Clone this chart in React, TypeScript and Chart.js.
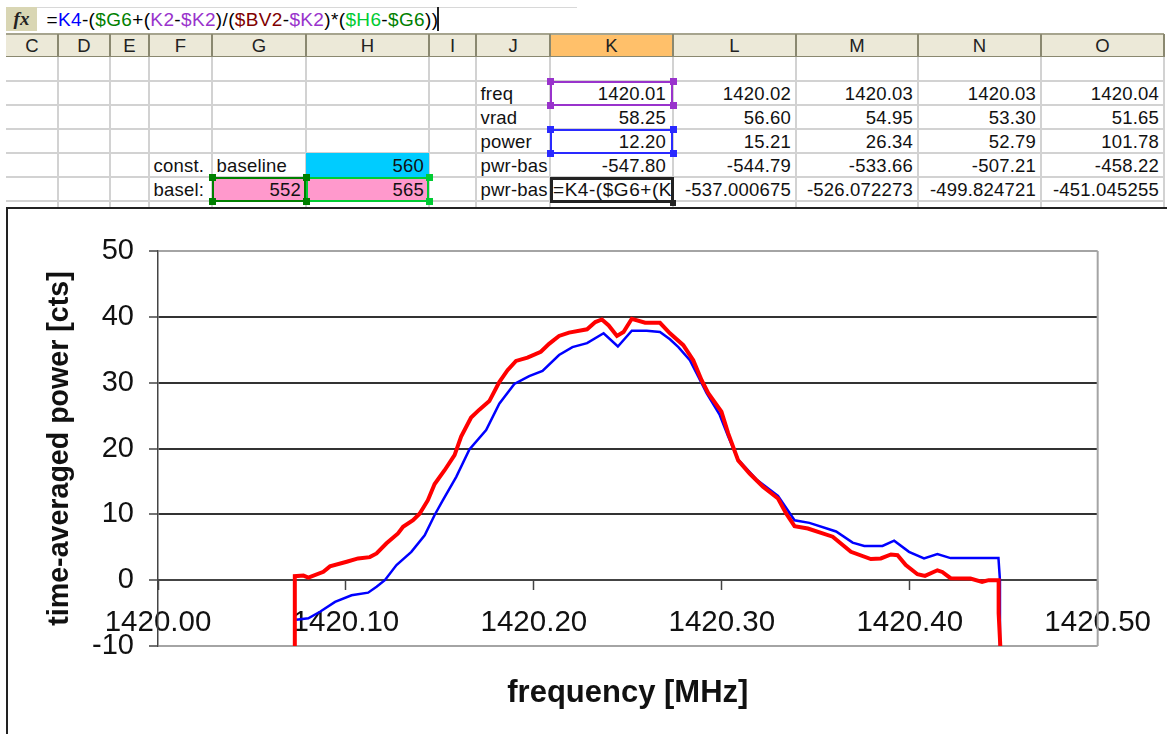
import React, { useEffect, useRef } from "react";
import { Chart, registerables } from "chart.js";

Chart.register(...registerables);

const redFreq = [1420.0728,1420.0728,1420.0774,1420.08,1420.088,1420.0915,1420.1004,1420.1065,1420.1127,1420.1163,1420.1216,1420.1277,1420.1304,1420.1357,1420.1392,1420.1436,1420.1472,1420.1525,1420.1578,1420.1613,1420.1666,1420.171,1420.1763,1420.1816,1420.186,1420.1905,1420.1966,1420.2037,1420.2081,1420.2134,1420.2187,1420.2283,1420.2327,1420.2362,1420.2398,1420.2442,1420.2477,1420.2521,1420.2592,1420.2671,1420.2724,1420.2795,1420.2848,1420.2892,1420.2928,1420.2998,1420.3034,1420.3087,1420.3148,1420.3219,1420.3299,1420.3343,1420.3387,1420.3458,1420.359,1420.3687,1420.3793,1420.3846,1420.39,1420.3935,1420.3979,1420.4041,1420.4081,1420.4147,1420.4173,1420.4217,1420.4323,1420.4385,1420.442,1420.4473,1420.4473,1420.4482];
const redPower = [-10.1,0.6,0.7,0.4,1.27,2.1,2.8,3.3,3.5,4.05,5.6,7.1,8.1,9.1,10.1,12.15,14.6,16.7,19,21.8,24.7,25.9,27.2,30.1,31.9,33.3,33.8,34.7,35.9,37.1,37.6,38.1,39.2,39.6,38.7,37.1,37.7,39.7,39.1,39.1,37.5,35.7,33.4,30.4,28.4,25.6,22.3,18.2,16.2,14.2,12.4,10.1,8.2,7.85,6.6,4.3,3.2,3.3,3.9,3.8,2.3,0.9,0.65,1.5,1.25,0.3,0.25,-0.25,0,0,-5,-10.1];
const blueFreq = [1420.0735,1420.08,1420.0862,1420.0942,1420.103,1420.1118,1420.1163,1420.1207,1420.1269,1420.1348,1420.1419,1420.1472,1420.1516,1420.1587,1420.1657,1420.1746,1420.1816,1420.1896,1420.1975,1420.2046,1420.2134,1420.2205,1420.2283,1420.2371,1420.2447,1420.2521,1420.26,1420.2671,1420.2724,1420.2769,1420.283,1420.2875,1420.2919,1420.2989,1420.3034,1420.3087,1420.3184,1420.3299,1420.3387,1420.3466,1420.3608,1420.3696,1420.3758,1420.3855,1420.3917,1420.3996,1420.4076,1420.4147,1420.4217,1420.4472,1420.448,1420.448];
const bluePower = [-6,-5.8,-4.8,-3.3,-2.3,-1.9,-1,0,2.3,4.3,6.8,9.9,12.15,15.7,19.85,22.8,26.8,29.8,31,31.8,34.2,35.4,36,37.5,35.5,37.9,37.9,37.7,36.6,35.4,33.4,30.9,28.4,25.1,21.8,18.3,15.3,12.8,9.1,8.7,7.4,5.7,5.2,5.2,6,4.3,3.3,3.95,3.35,3.35,0,-10.1];

const columnNames = ["C","D","E","F","G","H","I","J","K","L","M","N","O"];
const columnEdges = [6,58,110,149,212,306,429,476,550,673,796,918,1041,1164];
const rowEdges = [81,105,129,153,177,201];

const labelsF = [["const.",3],["basel:",4]] as [string, number][];
const labelsG = [["baseline",3]] as [string, number][];
const labelsJ = ["freq","vrad","power","pwr-bas","pwr-bas"];
const colK = ["1420.01","58.25","12.20","-547.80"];
const colL = ["1420.02","56.60","15.21","-544.79","-537.000675"];
const colM = ["1420.03","54.95","26.34","-533.66","-526.072273"];
const colN = ["1420.03","53.30","52.79","-507.21","-499.824721"];
const colO = ["1420.04","51.65","101.78","-458.22","-451.045255"];
const numericColumns: [number, string[]][] = [[8,colK],[9,colL],[10,colM],[11,colN],[12,colO]];

const formulaParts: [string, string][] = [
  ["=","#000"],["K4","#0000ff"],["-(","#000"],["$G6","#008000"],["+(","#000"],["K2","#9933cc"],["-","#000"],["$K2","#9933cc"],[")/(","#000"],["$BV2","#800000"],["-","#000"],["$K2","#9933cc"],[")*(","#000"],["$H6","#00cc33"],["-","#000"],["$G6","#008000"],["))","#000"],
];

const FONT = '"Liberation Sans", Arial, sans-serif';

function box(left: number, top: number, width: number, height: number, background: string, extra: React.CSSProperties = {}): React.CSSProperties {
  return { position: "absolute", left, top, width, height, background, boxSizing: "border-box", ...extra };
}

function Cell({ col, row, text, right, pad = 5, color = "#111" }: { col: number; row: number; text: string; right?: boolean; pad?: number; color?: string }) {
  const l = columnEdges[col], r = columnEdges[col + 1], t = rowEdges[row], b = rowEdges[row + 1];
  return (
    <div style={{ position: "absolute", left: l, top: t, width: r - l, height: b - t, lineHeight: `${b - t + 1}px`, fontSize: 18.5, color, whiteSpace: "nowrap", textAlign: right ? "right" : "left", paddingRight: right ? pad : 0, paddingLeft: right ? 0 : 4.5, boxSizing: "border-box", letterSpacing: "0.2px" }}>
      {text}
    </div>
  );
}

function Selection({ l, r, t, b, color, handles }: { l: number; r: number; t: number; b: number; color: string; handles: [number, number][] }) {
  return (
    <>
      <div style={box(l, t, r - l, b - t + 1, "transparent", { border: `2px solid ${color}` })} />
      {handles.map(([x, y], i) => <div key={i} style={box(x - 3.5, y - 3.5, 7, 7, color)} />)}
    </>
  );
}

function Sheet() {
  const k0 = columnEdges[8], k1 = columnEdges[9], g0 = columnEdges[4], g1 = columnEdges[5], h1 = columnEdges[6];
  return (
    <div style={{ position: "absolute", left: 0, top: 0, width: 1167, height: 207, fontFamily: FONT, overflow: "hidden" }}>
      <div style={box(6, 7, 31, 24, "#d9d6b4")} />
      <div style={{ position: "absolute", left: 6, top: 7, width: 31, height: 24, lineHeight: "24px", textAlign: "center", fontFamily: '"Liberation Serif", serif', fontStyle: "italic", fontWeight: 700, fontSize: 19, color: "#222" }}>fx</div>
      <div style={box(37, 7, 540, 1, "#d8d8d8")} />
      <div style={{ position: "absolute", left: 46.5, top: 7, height: 24, lineHeight: "25px", fontSize: 19, whiteSpace: "nowrap", letterSpacing: "0.35px" }}>
        {formulaParts.map(([t, c], i) => <span key={i} style={{ color: c }}>{t}</span>)}
      </div>
      <div style={box(437, 7, 2, 24, "#222")} />

      <div style={box(6, 33, 1158, 24, "#ece9d8", { borderTop: "2px solid #a6a48e", borderBottom: "1.5px solid #8a8870" })} />
      <div style={box(k0, 33, k1 - k0, 24, "#ffc06a", { borderTop: "2px solid #a6a48e", borderBottom: "1.5px solid #8a8870" })} />
      {columnNames.map((n, i) => (
        <div key={n} style={{ position: "absolute", left: columnEdges[i], top: 34, width: columnEdges[i + 1] - columnEdges[i], height: 23, lineHeight: "23px", textAlign: "center", fontSize: 18.5, color: "#222" }}>{n}</div>
      ))}
      {columnEdges.slice(1).map((x) => <div key={x} style={box(x - 1, 34, 2, 23, "#8a8870")} />)}

      {rowEdges.map((y) => <div key={y} style={box(6, y - 1, 1158, 2, "#d2d2d2")} />)}
      {columnEdges.slice(1).map((x) => <div key={x} style={box(x - 1, 57, 2, 150, "#d2d2d2")} />)}

      <div style={box(columnEdges[5], 153, h1 - columnEdges[5], 24, "#00ccff")} />
      <div style={box(g0, 177, h1 - g0, 24, "#ff99cc")} />

      {labelsF.map(([t, r]) => <Cell key={t} col={3} row={r} text={t} />)}
      {labelsG.map(([t, r]) => <Cell key={t} col={4} row={r} text={t} />)}
      {labelsJ.map((t, r) => <Cell key={r} col={7} row={r} text={t} />)}
      <Cell col={5} row={3} text="560" right />
      <Cell col={4} row={4} text="552" right />
      <Cell col={5} row={4} text="565" right />
      {numericColumns.map(([c, vals]) => vals.map((v, r) => <Cell key={`${c}-${r}`} col={c} row={r} text={v} right pad={c === 8 ? 7 : 5} />))}

      <Selection l={g1} r={h1} t={177} b={201} color="#00cc33" handles={[[g1, 177], [h1, 177], [g1, 201], [h1, 201]]} />
      <Selection l={g0} r={g1} t={177} b={201} color="#008000" handles={[[g0, 177], [g1, 177], [g0, 201], [g1, 201]]} />
      <Selection l={k0} r={k1} t={81} b={105} color="#9933cc" handles={[[k0, 81], [k1, 81], [k0, 105], [k1, 105]]} />
      <Selection l={k0} r={k1} t={129} b={153} color="#2a2aff" handles={[[k0, 129], [k1, 129], [k0, 153], [k1, 153]]} />

      <div style={{ position: "absolute", left: k0, top: 177, width: k1 - k0 + 1, height: 26, overflow: "hidden", background: "#fff", border: "3px solid #222", boxSizing: "border-box", lineHeight: "20px", fontSize: 19, letterSpacing: "0.55px", color: "#111", whiteSpace: "nowrap", paddingLeft: 0 }}>=K4-($G6+(K2-$K2)/($BV2-$K2)*($H6-$G6))</div>
      <div style={box(k1 - 3, 200, 6, 6, "#222")} />
    </div>
  );
}

export default function App() {
  const ref = useRef<HTMLCanvasElement>(null);
  useEffect(() => {
    if (!ref.current) return;
    const edgePlugin = {
      id: "plotEdge",
      beforeDatasetsDraw(chart: any) {
        const { ctx, chartArea: a } = chart;
        ctx.save();
        ctx.strokeStyle = "#a4a4a4";
        ctx.lineWidth = 2;
        ctx.beginPath();
        ctx.moveTo(a.right, a.top);
        ctx.lineTo(a.right, a.bottom);
        ctx.stroke();
        ctx.restore();
      },
    };
    const chart = new Chart(ref.current, {
      type: "line",
      plugins: [edgePlugin],
      data: {
        datasets: [
          { label: "basel", data: redFreq.map((x, i) => ({ x, y: redPower[i] })), borderColor: "#ff0000", borderWidth: 4, pointRadius: 0, tension: 0 },
          { label: "const", data: blueFreq.map((x, i) => ({ x, y: bluePower[i] })), borderColor: "#0000ff", borderWidth: 2.5, pointRadius: 0, tension: 0 },
        ],
      },
      options: {
        animation: false,
        responsive: false,
        layout: { padding: { left: 0, right: 69, top: 42, bottom: 0 } },
        plugins: {
          legend: { display: false },
          tooltip: { enabled: false },
          title: {
            display: true,
            position: "bottom",
            fullSize: false,
            text: "frequency [MHz]",
            color: "#111",
            font: { family: FONT, size: 31, weight: "bold", lineHeight: 1.2 },
            padding: { top: 28.4, bottom: 22.4 },
          },
        },
        scales: {
          x: {
            type: "linear",
            position: { y: 0 },
            min: 1420,
            max: 1420.5,
            border: { color: "#444", width: 2 },
            grid: { drawOnChartArea: false, drawTicks: true, tickLength: 9, tickColor: "#444", tickWidth: 1.5 },
            ticks: {
              stepSize: 0.1,
              autoSkip: false,
              maxRotation: 0,
              padding: 16,
              color: "#111",
              font: { family: FONT, size: 29.5 },
              callback: (v: any) => Number(v).toFixed(2),
            },
          },
          y: {
            type: "linear",
            min: -10,
            max: 50,
            afterFit: (s: any) => { s.width = 150; },
            border: { color: "#444", width: 1.5 },
            grid: {
              color: (c: any) => (c.tick && (c.tick.value === 50 || c.tick.value === -10) ? "#a4a4a4" : "#333"),
              lineWidth: 2,
              tickLength: 9,
              tickColor: "#444",
              tickWidth: 1.5,
            },
            ticks: { stepSize: 10, padding: 15, color: "#111", font: { family: FONT, size: 29 } },
            title: {
              display: true,
              text: "time-averaged power [cts]",
              color: "#111",
              font: { family: FONT, size: 28.6, weight: "bold", lineHeight: 1.2 },
              padding: { top: 35, bottom: 0 },
            },
          },
        },
      },
    } as any);
    return () => chart.destroy();
  }, []);
  return (
    <div style={{ position: "fixed", left: 0, top: 0, width: 1167, height: 734, background: "#fff", overflow: "hidden" }}>
      <Sheet />
      <div style={box(6, 207, 1161, 2, "#222")} />
      <div style={box(6, 207, 2, 527, "#222")} />
      <canvas ref={ref} width={1159} height={525} style={{ position: "absolute", left: 8, top: 209, width: 1159, height: 525, display: "block" }} />
    </div>
  );
}
